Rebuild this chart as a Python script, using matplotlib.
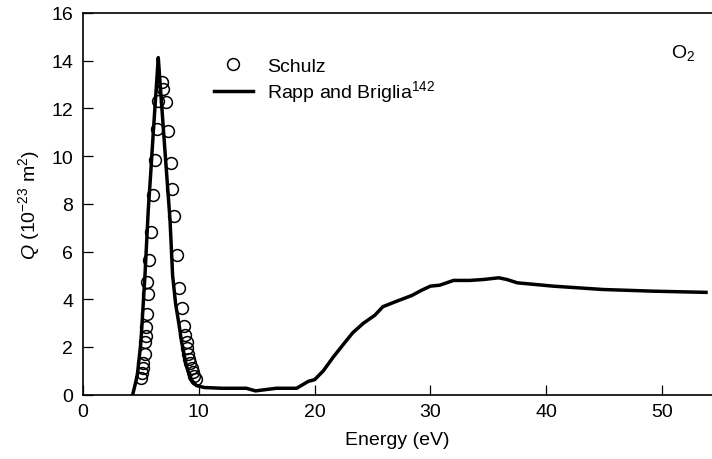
import matplotlib
matplotlib.use("Agg")
import matplotlib.pyplot as plt

plt.rcParams['font.family'] = ['Liberation Sans', 'DejaVu Sans']
plt.rcParams['mathtext.fontset'] = 'custom'
plt.rcParams['mathtext.rm'] = 'Liberation Sans'
plt.rcParams['mathtext.it'] = 'Liberation Sans:italic'

# Rapp and Briglia (line)
rapp_E = [4.29, 4.69, 5.0, 5.35, 5.64, 5.85, 6.07, 6.22, 6.36, 6.5, 6.74, 7.08, 7.51,
          7.74, 8.0, 8.31, 8.52, 8.81, 9.0, 9.3, 9.8, 10.5, 12.0, 14.1, 14.9, 16.7,
          18.45, 19.46, 20.0, 20.75, 21.6, 22.5, 23.3, 24.2, 25.2, 25.9, 27.1, 28.4,
          29.25, 30.0, 30.8, 32.0, 33.4, 34.6, 35.9, 36.6, 37.5, 40.6, 44.9, 49.2, 53.8]
rapp_Q = [0.0, 0.8, 2.2, 4.99, 7.78, 9.3, 11.0, 12.1, 13.1, 14.13, 12.5, 10.2, 7.36,
          4.99, 3.8, 2.89, 2.2, 1.5, 1.1, 0.66, 0.38, 0.3, 0.27, 0.27, 0.16, 0.27,
          0.27, 0.56, 0.63, 1.0, 1.57, 2.12, 2.6, 2.99, 3.33, 3.69, 3.92, 4.16,
          4.38, 4.55, 4.59, 4.79, 4.79, 4.83, 4.9, 4.83, 4.69, 4.55, 4.41, 4.34, 4.29]

# Schulz (open circles)
schulz_E = [4.98, 5.07, 5.15, 5.2, 5.35, 5.35, 5.44, 5.41, 5.55, 5.64, 5.55, 5.70, 5.85,
            6.07, 6.22, 6.36, 6.5, 6.8, 6.94, 7.17, 7.37, 7.57, 7.71, 7.89,
            8.14, 8.31, 8.52, 8.72, 8.81, 8.95, 9.0, 9.09, 9.18, 9.24, 9.39, 9.47, 9.59, 9.76]
schulz_Q = [0.69, 0.91, 1.1, 1.33, 1.7, 2.22, 2.47, 2.82, 3.38, 4.22, 4.73, 5.66, 6.8,
            8.37, 9.85, 11.13, 12.3, 13.1, 12.8, 12.25, 11.06, 9.73, 8.62, 7.5,
            5.85, 4.46, 3.62, 2.87, 2.5, 2.22, 1.94, 1.7, 1.5, 1.33, 1.1, 0.94, 0.8, 0.66]

x_ticks = [0, 10, 20, 30, 40, 50]
y_ticks = [0, 2, 4, 6, 8, 10, 12, 14, 16]

fig = plt.figure(figsize=(7.12, 4.6), dpi=100)
ax = fig.add_axes([83/712, 1 - 395.7/460, 1 - 83/712, (395.7 - 14)/460])

ax.plot(schulz_E, schulz_Q, linestyle='none', marker='o', markersize=8.5,
        markerfacecolor='none', markeredgecolor='black', markeredgewidth=1.1,
        label='Schulz', zorder=3)
ax.plot(rapp_E, rapp_Q, color='black', linewidth=2.5, label='Rapp and Briglia$^{142}$',
        solid_joinstyle='round', zorder=2)

ax.set_xlim(0, (712 - 83) / 11.58)
ax.set_ylim(0, 16)
ax.set_xticks(x_ticks)
ax.set_yticks(y_ticks)
ax.spines['right'].set_visible(False)
for s in ['left', 'bottom', 'top']:
    ax.spines[s].set_linewidth(1.2)
ax.tick_params(direction='in', length=7, width=0.9, labelsize=14)
ax.tick_params(axis='x', pad=6)
ax.tick_params(axis='y', pad=7)

ax.set_xlabel('Energy (eV)', fontsize=14, labelpad=8)
ax.set_ylabel('$Q$ (10$^{-23}$ m$^2$)', fontsize=14, labelpad=7)

ax.text(683/712, 1 - 53/460, 'O$_2$', transform=fig.transFigure, fontsize=14,
        ha='center', va='center')

leg = ax.legend(loc='upper left', bbox_to_anchor=(214/712, 1 - 58/460),
                bbox_transform=fig.transFigure, frameon=False, fontsize=14,
                handlelength=2.0, handletextpad=0.75, labelspacing=0.2,
                borderpad=0, borderaxespad=0)

fig.savefig('out.png', dpi=100)
